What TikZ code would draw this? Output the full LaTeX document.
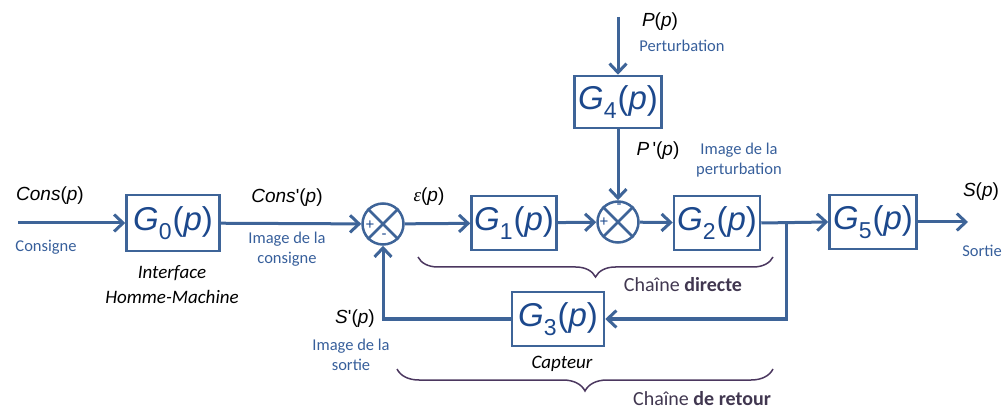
\documentclass[tikz,border=0pt]{standalone}
\usepackage{fontspec}
\setmainfont{Liberation Sans}[Ligatures=TeXOff]
\newfontfamily\calfont{Carlito}
\newfontfamily\serfont{Liberation Serif}
\usetikzlibrary{arrows.meta,decorations.pathreplacing}
\definecolor{lineblue}{RGB}{62,100,152}
\definecolor{gblue}{RGB}{28,72,140}
\definecolor{lblblue}{RGB}{55,95,155}
\definecolor{bracec}{RGB}{75,55,95}
\definecolor{chaine}{RGB}{65,55,80}
\newcommand{\Gp}[1]{\textit{G}\raisebox{-0.28em}{\fontsize{23}{23}\selectfont #1}\kern1pt(\textit{p})}
\begin{document}
\begin{tikzpicture}[x=1pt,y=-1pt,
  blk/.style={draw=lineblue, line width=2.5pt, minimum width=89pt, minimum height=54pt, inner sep=0pt, text=gblue, font=\fontsize{33}{33}\selectfont},
  sumc/.style={draw=lineblue, circle, line width=2.5pt, minimum size=41pt, inner sep=0pt},
  conn/.style={draw=lineblue, line width=3pt, -{Straight Barb[length=9pt,width=17pt]}},
  sig/.style={font=\fontsize{19}{19}\selectfont, text=black, inner sep=0pt},
  blbl/.style={font=\calfont\fontsize{16.5}{19.5}\selectfont, text=lblblue, align=center, inner sep=0pt},
  ital/.style={font=\calfont\itshape\fontsize{19}{25}\selectfont, text=black, align=center, inner sep=0pt},
  sgn/.style={font=\fontsize{15}{15}\selectfont, text=gblue, inner sep=0pt},
  brc/.style={draw=bracec, line width=1.5pt, decorate, decoration={brace, amplitude=#1}},
  chn/.style={font=\calfont\fontsize{20}{20}\selectfont, text=chaine, inner sep=0pt}
]
\useasboundingbox (0,0) rectangle (1003,411);

% blocks
\node[blk, minimum width=93pt, minimum height=56pt] (g0) at (173,223) {\Gp{0}};
\node[blk, minimum width=85pt] (g1) at (514,223) {\Gp{1}};
\node[blk, minimum width=86pt] (g2) at (717,223) {\Gp{2}};
\node[blk, minimum width=87pt, minimum height=52pt] (g4) at (618,102) {\Gp{4}};
\node[blk, minimum width=87pt] (g5) at (873,222) {\Gp{5}};
\node[blk, minimum width=92pt] (g3) at (558,319) {\Gp{3}};

% summing junctions
\node[sumc] (s1) at (383,224) {};
\node[sumc] (s2) at (618,222) {};
\foreach \s in {s1,s2}{
  \draw[lineblue, line width=2.5pt] (\s.north east) -- (\s.south west) (\s.north west) -- (\s.south east);
}
\node[sgn] (s1p) at (370,225) {+};
\node[sgn] (s1m) at (384,236) {-};
\node[sgn] (s2m) at (619,206) {-};
\node[sgn] (s2p) at (604,222) {+};

% coordinates
\coordinate (in) at (18,223);
\coordinate (pin) at (618,17);
\coordinate (out) at (968,222);
\coordinate (br) at (786,222);

% connectors
\draw[conn] (in) -- (g0);
\draw[conn] (g0) -- (s1);
\draw[conn] (s1) -- (g1);
\draw[conn] (g1) -- (s2);
\draw[conn] (s2) -- (g2);
\draw[conn] (pin) -- (g4);
\draw[conn] (g4) -- (s2);
\draw[conn] (g2.east) -- (g5.west);
\draw[conn] (g5) -- (out);
\draw[conn] (br) |- (g3);
\draw[conn] (g3) -| (s1);

% signal labels
\node[sig] (lcons) at (50,196) {\textit{Cons}(\textit{p})};
\node[blbl] (lconsigne) at (46,247) {Consigne};
\node[ital] (lihm) at (172,285) {Interface\\Homme-Machine};
\node[sig] (lconsp) at (287,198) {\textit{Cons}'(\textit{p})};
\node[blbl] (limc) at (287,249) {Image de la\\consigne};
\node[sig] (leps) at (429,197) {{\serfont\itshape ε}(\textit{p})};
\node[sig] (lpp) at (658,151) {\textit{P}\,'(\textit{p})};
\node[blbl] (limp) at (739,160) {Image de la\\perturbation};
\node[sig] (lp) at (660,22) {\textit{P}(\textit{p})};
\node[blbl] (lpert) at (682,46) {Perturbation};
\node[sig] (ls) at (981,192) {\textit{S}(\textit{p})};
\node[blbl] (lsortie) at (982,251) {Sortie};
\node[sig] (lsp) at (355,319) {\textit{S}'(\textit{p})};
\node[blbl] (lims) at (351,355) {Image de la\\sortie};
\node[ital] (lcapt) at (562,364) {Capteur};

% braces
\draw[brc=20pt] (773,257) -- (418,257);
\draw[brc=22pt] (773,369) -- (397,369);
\node[chn] (cd) at (683,285) {Chaîne \textbf{directe}};
\node[chn] (cr) at (702,399) {Chaîne \textbf{de retour}};
\end{tikzpicture}
\end{document}
